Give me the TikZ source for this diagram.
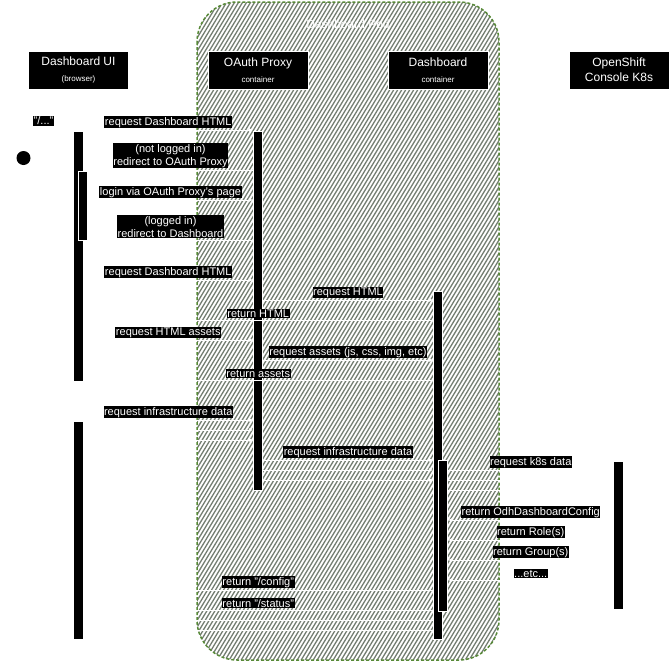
\documentclass[tikz,border=0pt]{standalone}
\usepackage{fontspec}
\setmainfont{Liberation Sans}
\usetikzlibrary{arrows.meta}
\definecolor{hatchgray}{RGB}{116,126,114}
\definecolor{podgreen}{RGB}{88,138,56}

\begin{document}
\begin{tikzpicture}[x=1pt,y=-1pt,
    head/.style={fill=black,draw=white,line width=0.6pt,text=white,minimum width=100pt,minimum height=38pt,align=center,inner sep=0pt,font=\fontsize{12}{15}\selectfont},
    actbar/.style={fill=black,draw=white,line width=0.6pt,minimum width=9.5pt,inner sep=0pt},
    lbl/.style={fill=black,text=white,inner xsep=0.5pt,inner ysep=0.8pt,align=center,font=\fontsize{11}{13}\selectfont,anchor=south,yshift=1.5pt},
    msg/.style={draw=white,line width=0.8pt,-{Latex[length=4pt,width=4pt]}}]
						\useasboundingbox (0,0) rectangle (670,662);
						\begin{scope}
						\clip[rounded corners=40pt] (197,2) rectangle (499,660);
						\foreach \i in {-56,...,126} \draw[hatchgray,line width=1.3pt] (\i*4,662) -- ++(400,-662);
						\end{scope}
						\draw[podgreen,line width=1.5pt,dash pattern=on 3pt off 2pt,rounded corners=40pt] (197,2) rectangle (499,660);
						\node[text=white,font=\fontsize{12}{14}\selectfont] (podtitle) at (348,24) {Dashboard Pod};
						\node[head] (ui) at (78.5,70) {Dashboard UI\\[1pt]{\fontsize{8}{9}\selectfont (browser)}};
						\node[head] (proxy) at (258,70) {OAuth Proxy\\[1pt]{\fontsize{8}{9}\selectfont container}};
						\node[head] (dash) at (438,70) {Dashboard\\[1pt]{\fontsize{8}{9}\selectfont container}};
						\node[head] (k8s) at (619,70) {OpenShift\\Console K8s};
						\node[circle,fill=black,minimum size=14pt,inner sep=0pt] (start) at (23.5,158) {};
						\node[fill=black,text=white,inner sep=0.5pt,font=\fontsize{11}{13}\selectfont] (path) at (43.5,121) {"/..."};
						\node[actbar,minimum height=250pt] (ui1) at (78.5,256) {};
						\node[actbar,minimum height=69pt] (uin) at (83,205.5) {};
						\node[actbar,minimum height=218pt] (ui2) at (78.5,530) {};
						\node[actbar,minimum height=359pt] (px) at (258,310.5) {};
						\node[actbar,minimum height=348pt] (db) at (438,465) {};
						\node[actbar,minimum height=151pt] (dbn) at (443,535.5) {};
						\node[actbar,minimum height=148pt] (ks) at (618.5,535) {};
						\draw[msg] (ui1.east |- 0,130) -- node[lbl]{request Dashboard HTML} (px.west |- 0,130);
						\draw[msg] (px.west |- 0,170) -- node[lbl]{(not logged in)\\redirect to OAuth Proxy} (uin.east |- 0,170);
						\draw[msg] (uin.east |- 0,200) -- node[lbl]{login via OAuth Proxy's page} (px.west |- 0,200);
						\draw[msg] (px.west |- 0,240) -- node[lbl]{(logged in)\\redirect to Dashboard} (uin.east |- 0,240);
						\draw[msg] (ui1.east |- 0,280) -- node[lbl]{request Dashboard HTML} (px.west |- 0,280);
						\draw[msg] (px.east |- 0,300) -- node[lbl]{request HTML} (db.west |- 0,300);
						\draw[msg] (db.west |- 0,320) -- node[lbl]{return HTML} (ui1.east |- 0,320);
						\draw[msg] (ui1.east |- 0,340) -- node[lbl]{request HTML assets} (px.west |- 0,340);
						\draw[msg] (px.east |- 0,360) -- node[lbl]{request assets (js, css, img, etc)} (db.west |- 0,360);
						\draw[msg] (db.west |- 0,380) -- node[lbl]{return assets} (ui1.east |- 0,380);
						\draw[msg] (ui2.east |- 0,420) -- node[lbl]{request infrastructure data} (px.west |- 0,420);
						\draw[msg] (ui2.east |- 0,430) -- (px.west |- 0,430);
						\draw[msg] (ui2.east |- 0,440) -- (px.west |- 0,440);
						\draw[msg] (px.east |- 0,460) -- node[lbl]{request infrastructure data} (db.west |- 0,460);
						\draw[msg] (px.east |- 0,470) -- (db.west |- 0,470);
						\draw[msg] (px.east |- 0,480) -- (db.west |- 0,480);
						\draw[msg] (dbn.east |- 0,470) -- node[lbl]{request k8s data} (ks.west |- 0,470);
						\draw[msg] (dbn.east |- 0,480) -- (ks.west |- 0,480);
						\draw[msg] (dbn.east |- 0,490) -- (ks.west |- 0,490);
						\draw[msg] (ks.west |- 0,520) -- node[lbl]{return OdhDashboardConfig} (dbn.east |- 0,520);
						\draw[msg] (ks.west |- 0,540) -- node[lbl]{return Role(s)} (dbn.east |- 0,540);
						\draw[msg] (ks.west |- 0,560) -- node[lbl]{return Group(s)} (dbn.east |- 0,560);
						\draw[msg] (ks.west |- 0,580) -- node[lbl]{...etc...} (dbn.east |- 0,580);
						\draw[msg] (db.west |- 0,590) -- node[lbl]{return "/config"} (ui2.east |- 0,590);
						\draw[msg] (db.west |- 0,610) -- node[lbl]{return "/status"} (ui2.east |- 0,610);
						\draw[msg] (db.west |- 0,620) -- (ui2.east |- 0,620);
						\draw[msg] (db.west |- 0,630) -- (ui2.east |- 0,630);
					\end{tikzpicture}
\end{document}
